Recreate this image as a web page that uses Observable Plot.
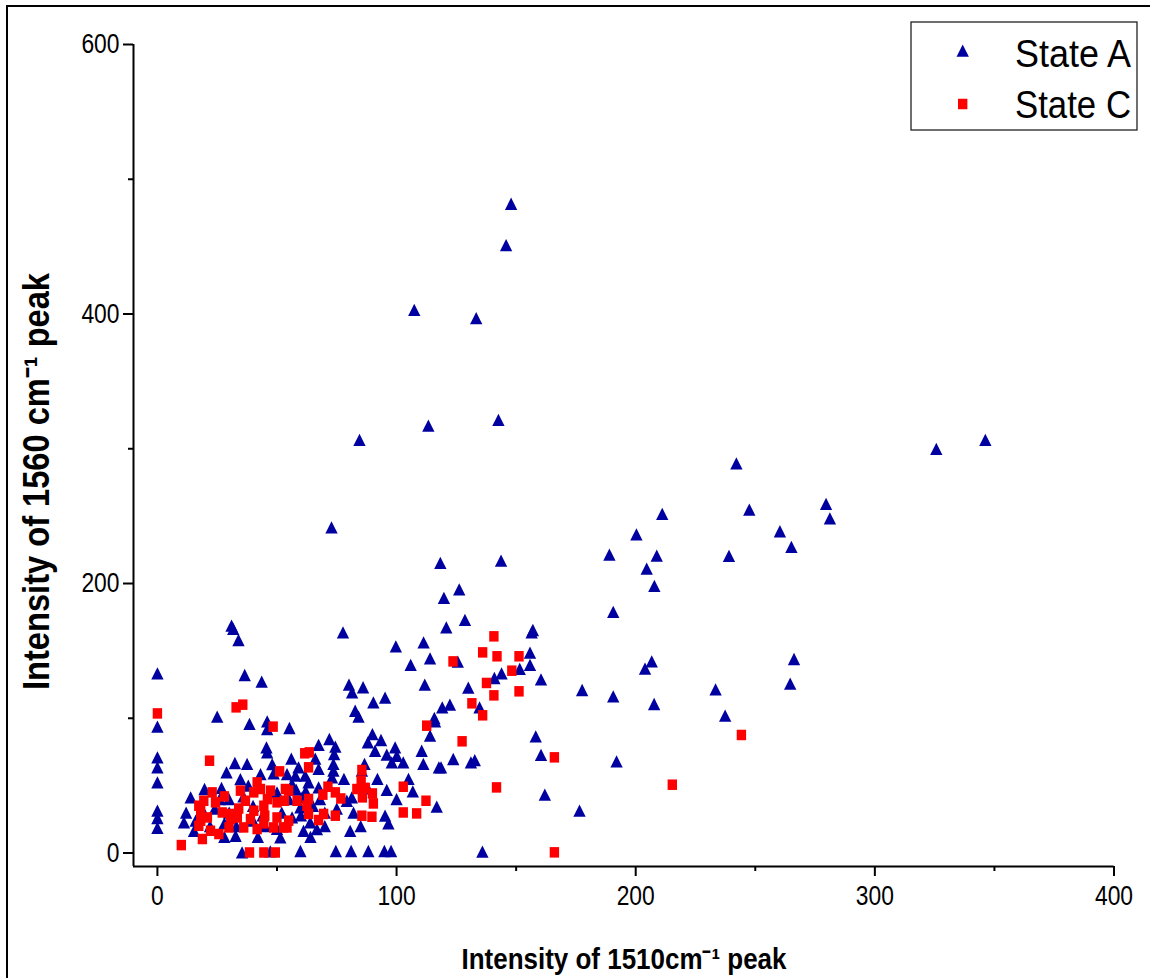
<!DOCTYPE html>
<html><head><meta charset="utf-8">
<script src="https://cdn.jsdelivr.net/npm/d3@7"></script>
<script src="https://cdn.jsdelivr.net/npm/@observablehq/plot@0.6"></script>
<style>
html,body{margin:0;padding:0;background:#fff;overflow:hidden;}
#wrap{position:relative;width:1150px;height:978px;}
#border{position:absolute;left:6px;top:5px;width:2000px;height:2000px;border-left:2px solid #000;border-top:2px solid #000;pointer-events:none;}
#chart svg{display:block;}
</style></head><body>
<div id="wrap"><div id="chart"></div><div id="border"></div></div>
<script>
// ---- data ----
const seriesNames = ["State A", "State C"];
const seriesColors = ["#0000A0", "#FF0000"];
const xTicks = [0, 100, 200, 300, 400];
const xMinorTicks = [50, 150, 250, 350];
const yTicks = [0, 200, 400, 600];
const yMinorTicks = [100, 300, 500];
const xTitle = "Intensity of 1510cm\u207B\u00B9 peak";
const yTitle = "Intensity of 1560 cm\u207B\u00B9 peak";

// State A (blue triangles): [x, y]
const stateA = [
[147.9,481.8],[145.8,451.1],[107.4,403.1],[133.3,396.9],[113.3,317.2],[142.6,321.5],[84.5,306.6],
[325.7,299.9],[346.2,306.6],[242.1,289.2],[211.1,251.7],[247.5,254.9],[279.6,259.1],[281.2,248.4],
[200.3,236.5],[260.3,238.8],[265.1,227.2],[189,221.5],[208.8,220.7],[239,220.5],[204.6,211.1],
[207.8,198.2],[190.6,178.9],[206.7,142.2],[203.9,136.8],[266.2,144],[264.6,125.7],[177.6,121],
[190.6,116.3],[207.7,110.6],[233.4,121.5],[237.4,101.9],[72.8,241.7],[118.3,215.3],[143.7,217],
[126.2,195.7],[119.8,189.3],[120.8,167.5],[128.6,173],[31,168.7],[31.7,166.3],[33.9,158.1],
[77.6,163.8],[157,165.5],[156.5,163.8],[155.8,148.7],[155.8,139.6],[160.4,128.9],[151.5,136.6],
[143.9,133.3],[140.9,129.9],[0,133.3],[99.7,153.4],[111.3,156.3],[114,144.5],[105.9,139.6],
[125.6,142],[111.8,125],[130,122.7],[36.5,132.1],[43.6,127.2],[80.1,125],[81.4,119.2],[86,123],
[90.3,111.8],[95.2,115.3],[119.1,108.1],[122.3,110.1],[134.7,108.1],[82.7,105.6],[84.1,101.2],
[25,101.2],[115.8,100.2],[0,93.8],[38.5,95.8],[45.9,97.7],[45.9,92],[55.2,92.8],[158.2,86.6],
[160.4,72.8],[192,68],[162,43.3],[176.5,31.4],[135.9,1],[123.7,69.8],[131.1,67.3],[132.7,69],
[118.6,63.6],[89.9,88.3],[88,82.1],[93.5,83.9],[91,75.9],[71.9,84.6],[67.4,80.2],[74.4,78.9],
[73.9,73.5],[99.4,78.4],[95.9,73],[100.1,72.2],[102.8,67.3],[98,67.3],[110.5,75.9],[111.2,66.1],
[114,87.1],[116.1,97.7],[117.7,63.6],[86.6,66.1],[85.5,61.1],[73.6,66.1],[73.6,61.1],[73,56.1],
[67.4,62.4],[59,63.6],[57.7,57.4],[61.8,57.4],[63.2,52.4],[67.4,48.7],[56.3,51.2],[95.9,46.8],
[106.8,45.7],[116.8,34.4],[95.2,27.7],[96.6,22],[80.6,16.5],[79.2,38.8],[81.3,41.3],[60.5,41.3],
[59.8,33.9],[61.1,16.5],[66.7,17.8],[56.3,26.4],[63.9,22.7],[59.8,1.5],[74.6,1.5],[81,1.5],
[88.2,1.5],[94.9,1.5],[97.7,1.5],[0,71],[0,63.6],[0,52.4],[0,31.4],[0,26],[0,18.6],[11.1,22.7],
[13.9,41.3],[19.7,47.5],[26.8,48.3],[32.4,66.8],[37.5,66.1],[28.9,59.8],[34.7,54.9],[45.6,78.4],
[45.9,74.7],[43.1,58.6],[48.6,59.1],[54.2,58.6],[29.9,40.1],[15.3,16.5],[32.7,12.8],[35.4,0.5],
[51.4,11.6],[47.2,1.2],[24,33],[40,35],[50,45],[28,22],[45,20],[20,28],[52,30],[42,12],[38,50],
[55,40],[65,35],[70,30],[66,70],[78,55],[62,46],[48,66],[56,70],[22,20],[30,30],[36,42],
[12,30],[16,24],[26,40],[33,20],[44,28],[58,47],[68,40],[75,33],[82,30],[85,20],[92,55],[100,40],
[105,55],[60,28],[50,18],[40,24],[28,12],[64,12],[70,20],[88,48]
];

// State C (red squares): [x, y]
const stateC = [
[140.7,160.8],[136,148.9],[142,146],[151.2,146],[148.2,135.3],[123.6,142.2],[137.6,126.2],
[140.7,117],[151.2,120],[131.5,111.1],[136,102.2],[32.9,108.1],[35.7,110.1],[0,103.6],[48.4,93.8],
[21.8,68.5],[10,5.9],[18.8,10.4],[38.5,0.4],[44.5,0.4],[49.3,0.4],[61.6,74],[63.5,74.7],[63.2,63.6],
[51.1,60.6],[85.5,61.6],[85.2,53.7],[83.4,47.5],[86.9,48.3],[89.9,44.2],[90.3,36.8],[85.7,41.3],
[102.8,49.2],[112.3,38.8],[102.8,30.1],[108.4,29.4],[85.5,27.7],[89.7,26.9],[74.4,27.7],[69.5,29],
[67.4,24.5],[71.3,49.2],[74.4,45],[76.7,40.5],[69.2,43.3],[58.4,38.8],[63.2,40.1],[63.2,29],
[62.5,35.1],[54.9,46.3],[54.9,24],[54.2,19],[112.6,94.5],[244.2,87.6],[215.3,50.7],[166,0.5],
[166,71],[141.8,48.7],[127.4,82.9],[22.9,45],[19.4,38.8],[24.3,37.6],[34.7,46.3],[40.3,45],
[43.1,47.5],[47.3,46.3],[36.8,38.8],[44.5,35.1],[50,37.6],[53.5,47.5],[40.3,31.4],[44.9,27.7],
[50,26.4],[18.1,31.4],[20.9,26.4],[27.1,30.1],[30.6,25.2],[17.3,20.2],[22.2,16.5],[25.7,14.1],
[29.9,19],[36.1,19],[41.7,17.8],[48.6,19],[52.8,19],[38.9,25.2],[17.3,35.1],[30.6,29],[33.4,26.4],
[41.7,52.4],[53.1,38.8],[44.5,22],[18.1,24],[28,42],[46,40],[34,33]
];

// ---- marker shapes (tall triangle, slightly tall square) ----
const tallTriangle = {
  draw(ctx, size) {
    const r = Math.sqrt(size / Math.PI), hw = r * 1.4, hh = r * 1.4;
    ctx.moveTo(0, -hh); ctx.lineTo(hw, hh); ctx.lineTo(-hw, hh); ctx.closePath();
  }
};
const tallSquare = {
  draw(ctx, size) {
    const r = Math.sqrt(size / Math.PI), hw = r * 0.92, hh = r * 1.03;
    ctx.moveTo(-hw, -hh); ctx.lineTo(hw, -hh); ctx.lineTo(hw, hh); ctx.lineTo(-hw, hh); ctx.closePath();
  }
};
const R_A = 4.4, R_C = 5.1;

// ---- chart ----
const FONT = '"Liberation Sans", Arial, Helvetica, sans-serif';
const W = 1150, H = 978;

const plot = Plot.plot({
  width: W, height: H,
  marginLeft: 133, marginRight: 36.5, marginTop: 44, marginBottom: 112,
  x: {domain: [-10, 400]},
  y: {domain: [-10, 600]},
  style: {fontFamily: FONT, fontSize: "28px", color: "#000", background: "transparent"},
  marks: [
    Plot.axisX({ticks: xTicks, tickSize: 10, tickPadding: 9, strokeWidth: 2, label: null, fontSize: 28, tickFormat: d => String(d)}),
    Plot.axisX({ticks: xMinorTicks, tickSize: 5, strokeWidth: 2, text: null, label: null}),
    Plot.axisY({ticks: yTicks, tickSize: 10, tickPadding: 4, strokeWidth: 2, label: null, fontSize: 28, tickFormat: d => String(d)}),
    Plot.axisY({ticks: yMinorTicks, tickSize: 5, strokeWidth: 2, text: null, label: null}),
    Plot.ruleY([-10], {stroke: "#000", strokeWidth: 2}),
    Plot.ruleX([-10], {stroke: "#000", strokeWidth: 2}),
    Plot.dot(stateA, {x: d => d[0], y: d => d[1], symbol: tallTriangle, r: R_A, fill: seriesColors[0], stroke: "none"}),
    Plot.dot(stateC, {x: d => d[0], y: d => d[1], symbol: tallSquare, r: R_C, fill: seriesColors[1], stroke: "none"})
  ]
});
document.getElementById("chart").appendChild(plot);

const svg = d3.select(plot);
// condense tick labels to match the narrow look of the original
svg.selectAll('g[aria-label="x-axis tick label"] text, g[aria-label="y-axis tick label"] text')
  .each(function() {
    const t = this.textContent;
    this.setAttribute("textLength", (t.length * 12.7).toFixed(1));
    this.setAttribute("lengthAdjust", "spacingAndGlyphs");
  });

// axis titles
function addTitle(str, transform, size, len) {
  svg.append("text").attr("transform", transform).attr("text-anchor", "middle")
    .attr("font-family", FONT).attr("font-weight", "bold").attr("font-size", size)
    .attr("fill", "#000").attr("textLength", len).attr("lengthAdjust", "spacingAndGlyphs")
    .text(str);
}
addTitle(yTitle, "translate(49,481.5) rotate(-90)", 36, 417);
addTitle(xTitle, "translate(624,969)", 29, 325);

// legend
const lg = svg.append("g");
lg.append("rect").attr("x", 911).attr("y", 22).attr("width", 226).attr("height", 108)
  .attr("fill", "#fff").attr("stroke", "#222").attr("stroke-width", 1.3);
const pathOf = (sym, r) => { const p = d3.path(); sym.draw(p, r * r * Math.PI); return p.toString(); };
lg.append("path").attr("d", pathOf(tallTriangle, R_A)).attr("transform", "translate(962.7,50.7)").attr("fill", seriesColors[0]);
lg.append("path").attr("d", pathOf(tallSquare, R_C)).attr("transform", "translate(962.7,104)").attr("fill", seriesColors[1]);
[[seriesNames[0], 66.5], [seriesNames[1], 117.5]].forEach(([name, yb]) => {
  lg.append("text").attr("x", 1015).attr("y", yb).attr("text-anchor", "start")
    .attr("font-family", FONT).attr("font-size", 38)
    .attr("fill", "#000").attr("textLength", 116).attr("lengthAdjust", "spacingAndGlyphs").text(name);
});
</script>
</body></html>
